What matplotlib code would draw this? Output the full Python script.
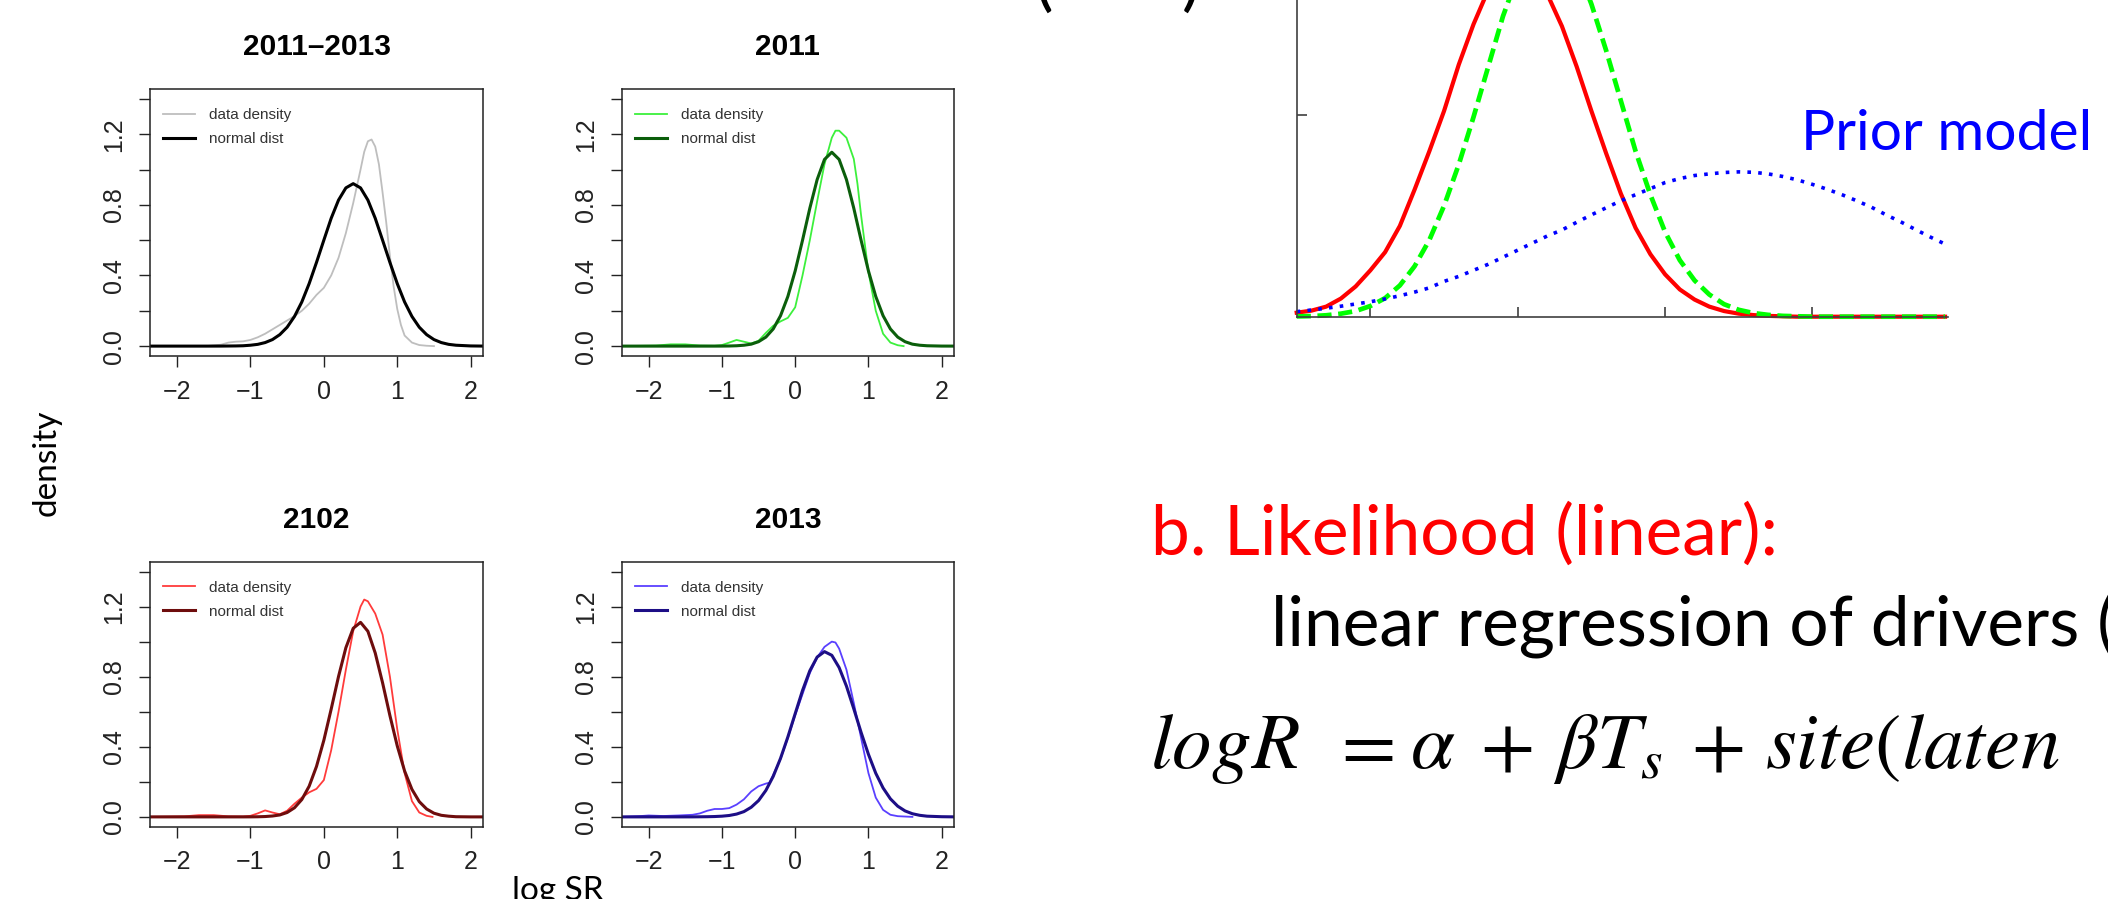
import matplotlib.pyplot as plt

plt.rcParams['font.family'] = ['Liberation Sans', 'DejaVu Sans']
plt.rcParams['mathtext.fontset'] = 'stix'

W, H = 2108, 899

# ---------------- small density panels (log SR) ----------------
panel_titles = ["2011\u20132013", "2011", "2102", "2013"]
data_colors = ["#bebebe", "#3cf03c", "#ff3b3b", "#5a40ff"]
norm_colors = ["#000000", "#0b5e0b", "#6e0d0d", "#1d0e86"]

norm_x = [-2.4, -2.0, -1.6, -1.4, -1.2, -1.1, -1.0, -0.9, -0.8, -0.7, -0.6, -0.5,
          -0.4, -0.3, -0.2, -0.1, 0.0, 0.1, 0.2, 0.3, 0.4, 0.5, 0.6, 0.7, 0.8, 0.9,
          1.0, 1.1, 1.2, 1.3, 1.4, 1.5, 1.6, 1.7, 1.8, 2.0, 2.2]
norm_all = [0, 0, 0, 0.0002, 0.001, 0.002, 0.005, 0.010, 0.020, 0.037, 0.065, 0.107,
            0.168, 0.250, 0.354, 0.474, 0.600, 0.724, 0.827, 0.896, 0.920, 0.896, 0.827,
            0.724, 0.600, 0.474, 0.354, 0.250, 0.168, 0.107, 0.065, 0.037, 0.020, 0.010,
            0.005, 0.001, 0]
norm_2011 = [0, 0, 0, 0, 0, 0, 0.0002, 0.0007, 0.002, 0.005, 0.011, 0.025,
             0.051, 0.097, 0.172, 0.281, 0.426, 0.599, 0.781, 0.943, 1.057, 1.098, 1.057,
             0.943, 0.781, 0.599, 0.426, 0.281, 0.172, 0.097, 0.051, 0.025, 0.011, 0.005,
             0.002, 0.0002, 0]
norm_2102 = [0, 0, 0, 0, 0, 0, 0.0002, 0.0007, 0.002, 0.005, 0.011, 0.025,
             0.052, 0.099, 0.175, 0.288, 0.437, 0.615, 0.801, 0.965, 1.076, 1.110, 1.059,
             0.935, 0.765, 0.578, 0.405, 0.262, 0.157, 0.087, 0.045, 0.021, 0.009, 0.004,
             0.001, 0, 0]
norm_2013 = [0, 0, 0, 0.0001, 0.001, 0.002, 0.004, 0.008, 0.016, 0.030, 0.055, 0.093,
             0.151, 0.231, 0.334, 0.456, 0.589, 0.721, 0.834, 0.912, 0.943, 0.922, 0.852,
             0.746, 0.617, 0.482, 0.357, 0.249, 0.165, 0.103, 0.061, 0.034, 0.018, 0.009,
             0.004, 0.001, 0]

dens_all_x = [-1.6, -1.4, -1.3, -1.2, -1.1, -1.0, -0.9, -0.8, -0.7, -0.6, -0.5, -0.4,
              -0.3, -0.2, -0.1, 0.0, 0.1, 0.2, 0.3, 0.4, 0.5, 0.55, 0.6, 0.65, 0.7, 0.75,
              0.8, 0.85, 0.9, 0.95, 1.0, 1.05, 1.1, 1.2, 1.3, 1.4, 1.5]
dens_all_y = [0, 0.008, 0.02, 0.025, 0.027, 0.035, 0.05, 0.07, 0.095, 0.12, 0.145, 0.17,
              0.2, 0.24, 0.29, 0.33, 0.4, 0.5, 0.64, 0.81, 1.0, 1.1, 1.16, 1.17, 1.13, 1.03,
              0.87, 0.70, 0.51, 0.34, 0.21, 0.12, 0.06, 0.02, 0.006, 0.002, 0]
dens_2011_x = [-2.35, -1.9, -1.7, -1.5, -1.3, -1.1, -1.0, -0.9, -0.8, -0.7, -0.6, -0.5,
               -0.4, -0.3, -0.2, -0.1, 0.0, 0.1, 0.2, 0.3, 0.4, 0.5, 0.55, 0.6, 0.7, 0.8,
               0.85, 0.9, 1.0, 1.1, 1.2, 1.3, 1.4, 1.48]
dens_2011_y = [0, 0.003, 0.01, 0.01, 0.003, 0.002, 0.006, 0.02, 0.035, 0.025, 0.015, 0.03,
               0.075, 0.115, 0.14, 0.16, 0.22, 0.40, 0.60, 0.82, 1.03, 1.18, 1.22, 1.22, 1.18,
               1.06, 0.92, 0.74, 0.42, 0.20, 0.07, 0.02, 0.005, 0]
dens_2102_x = [-2.35, -1.9, -1.7, -1.5, -1.3, -1.1, -1.0, -0.9, -0.8, -0.7, -0.6, -0.5,
               -0.4, -0.3, -0.2, -0.1, 0.0, 0.1, 0.2, 0.3, 0.4, 0.5, 0.55, 0.6, 0.7, 0.8,
               0.9, 1.0, 1.1, 1.2, 1.3, 1.4, 1.48]
dens_2102_y = [0, 0.003, 0.01, 0.01, 0.003, 0.002, 0.006, 0.02, 0.037, 0.025, 0.015, 0.035,
               0.075, 0.11, 0.14, 0.16, 0.21, 0.38, 0.60, 0.84, 1.06, 1.20, 1.24, 1.23, 1.16,
               1.04, 0.80, 0.50, 0.25, 0.09, 0.025, 0.006, 0]
dens_2013_x = [-2.35, -2.1, -2.0, -1.8, -1.6, -1.4, -1.3, -1.2, -1.1, -1.0, -0.9, -0.8,
               -0.7, -0.6, -0.5, -0.4, -0.35, -0.3, -0.2, -0.1, 0.0, 0.1, 0.2, 0.3, 0.4,
               0.5, 0.55, 0.6, 0.7, 0.8, 0.9, 1.0, 1.1, 1.2, 1.3, 1.4, 1.6]
dens_2013_y = [0, 0.005, 0.008, 0.005, 0.008, 0.012, 0.02, 0.035, 0.045, 0.045, 0.05, 0.07,
               0.10, 0.145, 0.175, 0.19, 0.195, 0.24, 0.33, 0.45, 0.58, 0.70, 0.82, 0.91, 0.97,
               1.0, 0.995, 0.96, 0.84, 0.65, 0.45, 0.25, 0.11, 0.04, 0.012, 0.004, 0]

x_ticks = [-2, -1, 0, 1, 2]
x_labels = ["\u22122", "\u22121", "0", "1", "2"]
y_ticks = [0.0, 0.2, 0.4, 0.6, 0.8, 1.0, 1.2, 1.4]
y_labels = ["0.0", "", "0.4", "", "0.8", "", "1.2", ""]

# ---------------- prior / likelihood / posterior sketch ----------------
grid_x = [0.5, 0.6, 0.7, 0.8, 0.9, 1.0, 1.1, 1.2, 1.3, 1.4, 1.5, 1.6, 1.7, 1.8, 1.9,
          2.0, 2.1, 2.2, 2.3, 2.4, 2.5, 2.6, 2.7, 2.8, 2.9, 3.0, 3.1, 3.2, 3.3, 3.4,
          3.5, 3.6, 3.7, 3.8, 3.9, 4.0, 4.1, 4.2, 4.3, 4.4, 4.5, 4.6, 4.7, 4.8, 4.9]
likelihood = [0.02, 0.03, 0.05, 0.09, 0.15, 0.23, 0.32, 0.45, 0.63, 0.82, 1.02, 1.25, 1.45,
              1.62, 1.72, 1.76, 1.72, 1.60, 1.44, 1.24, 1.02, 0.81, 0.61, 0.44, 0.31, 0.21,
              0.135, 0.085, 0.05, 0.028, 0.015, 0.008, 0.004, 0.002, 0, 0, 0, 0, 0, 0, 0,
              0, 0, 0, 0]
posterior = [0.0015, 0.003, 0.007, 0.015, 0.028, 0.053, 0.092, 0.155, 0.25, 0.38, 0.55,
             0.755, 0.99, 1.24, 1.49, 1.69, 1.83, 1.89, 1.86, 1.74, 1.55, 1.32, 1.07, 0.82,
             0.605, 0.42, 0.28, 0.18, 0.11, 0.062, 0.034, 0.018, 0.009, 0.004, 0.002, 0, 0,
             0, 0, 0, 0, 0, 0, 0, 0]
prior = [0.025, 0.033, 0.042, 0.052, 0.063, 0.074, 0.088, 0.104, 0.122, 0.143, 0.175, 0.20,
         0.23, 0.26, 0.295, 0.33, 0.365, 0.40, 0.43, 0.468, 0.505, 0.54, 0.575, 0.605, 0.635,
         0.665, 0.685, 0.70, 0.708, 0.715, 0.718, 0.716, 0.708, 0.695, 0.678, 0.656, 0.632,
         0.605, 0.575, 0.543, 0.505, 0.47, 0.432, 0.395, 0.36]

# equation pieces and their left edges (px)
eq_parts = [r"$logR$", r"$=$", r"$\alpha$", r"$+$", r"$\beta T_s$", r"$+$",
            r"$site(laten$"]
eq_left = [1150, 1330, 1410, 1480, 1553, 1691, 1765]

fig = plt.figure(figsize=(W / 100, H / 100), dpi=100)


def px_box(left, top, right, bottom):
    return [left / W, (H - bottom) / H, (right - left) / W, (bottom - top) / H]


panels = [
    (px_box(150, 89, 483, 356), dens_all_x, dens_all_y, norm_all),
    (px_box(621.7, 89, 954, 356), dens_2011_x, dens_2011_y, norm_2011),
    (px_box(150, 561.7, 483, 826.7), dens_2102_x, dens_2102_y, norm_2102),
    (px_box(621.7, 561.7, 954, 826.7), dens_2013_x, dens_2013_y, norm_2013),
]

for i, (box, dx, dy, ny) in enumerate(panels):
    ax = fig.add_axes(box)
    ax.plot(dx, dy, color=data_colors[i], lw=1.3, label="data density")
    ax.plot(norm_x, ny, color=norm_colors[i], lw=2.2, label="normal dist")
    ax.set_xlim(-2.368, 2.168)
    ax.set_ylim(-0.056, 1.456)
    ax.set_xticks(x_ticks)
    ax.set_xticklabels(x_labels)
    ax.set_yticks(y_ticks)
    ax.set_yticklabels(y_labels, rotation=90, va="center")
    ax.tick_params(direction="out", length=8, width=1, colors="#222222",
                   labelsize=18, pad=9)
    for sp in ax.spines.values():
        sp.set_color("#222222")
        sp.set_linewidth(1.1)
    ax.text(0.5, 1.128, panel_titles[i], transform=ax.transAxes, ha="center",
            va="baseline", fontsize=21.5, fontweight="bold")
    ax.legend(loc="upper left", bbox_to_anchor=(0.04, 0.928), frameon=False,
              fontsize=11, handlelength=2.1, handletextpad=0.9,
              labelspacing=0.65, borderpad=0, borderaxespad=0, labelcolor="#333333")

slide_font = ["Lato", "DejaVu Sans"]
fig.text(47 / W, 1 - 463 / H, "density", rotation=90, ha="center", va="center",
         fontsize=24, family=slide_font)
fig.text(558 / W, (H - 900) / H, "log SR", ha="center", va="baseline",
         fontsize=24, family=slide_font)

# prior / likelihood / posterior axes (top runs off the slide crop)
axr = fig.add_axes(px_box(1296.7, -100, 1948, 316.7))
axr.plot(grid_x, likelihood, color="#ff0000", lw=3.0, clip_on=False)
axr.plot(grid_x, posterior, color="#00ff00", lw=3.4, ls=(0, (3, 1.4)), clip_on=False)
axr.plot(grid_x, prior, color="#0000ff", lw=2.6, ls=(0, (1, 2.0)), clip_on=False)
axr.set_xlim(0.5, 4.92)
axr.set_ylim(0, 2.066)
axr.set_xticks([1, 2, 3, 4])
axr.set_yticks([1])
axr.tick_params(direction="in", length=7, width=1.2, colors="#404040",
                labelleft=False, labelbottom=False)
axr.spines["top"].set_visible(False)
axr.spines["right"].set_visible(False)
for side in ("left", "bottom"):
    axr.spines[side].set_color("#404040")
    axr.spines[side].set_linewidth(1.2)
axr.patch.set_alpha(0)

# slide text
fig.text(1035 / W, 1 - 3 / H, "(", fontsize=50, family=slide_font, va="baseline")
fig.text(1182 / W, 1 - 3 / H, ")", fontsize=50, family=slide_font, va="baseline")
fig.text(1801 / W, 1 - 150 / H, "Prior model", color="#0000ff", fontsize=41,
         family=slide_font, va="baseline")
fig.text(1151 / W, 1 - 555 / H, "b. Likelihood (linear):", color="#ff0000",
         fontsize=50, family=slide_font, va="baseline")
fig.text(1271 / W, 1 - 645 / H, "linear regression of drivers (", color="black",
         fontsize=50, family=slide_font, va="baseline")
for part, left in zip(eq_parts, eq_left):
    fig.text(left / W, 1 - 768 / H, part, color="black", fontsize=57, va="baseline")

fig.savefig("out.png", dpi=100)
